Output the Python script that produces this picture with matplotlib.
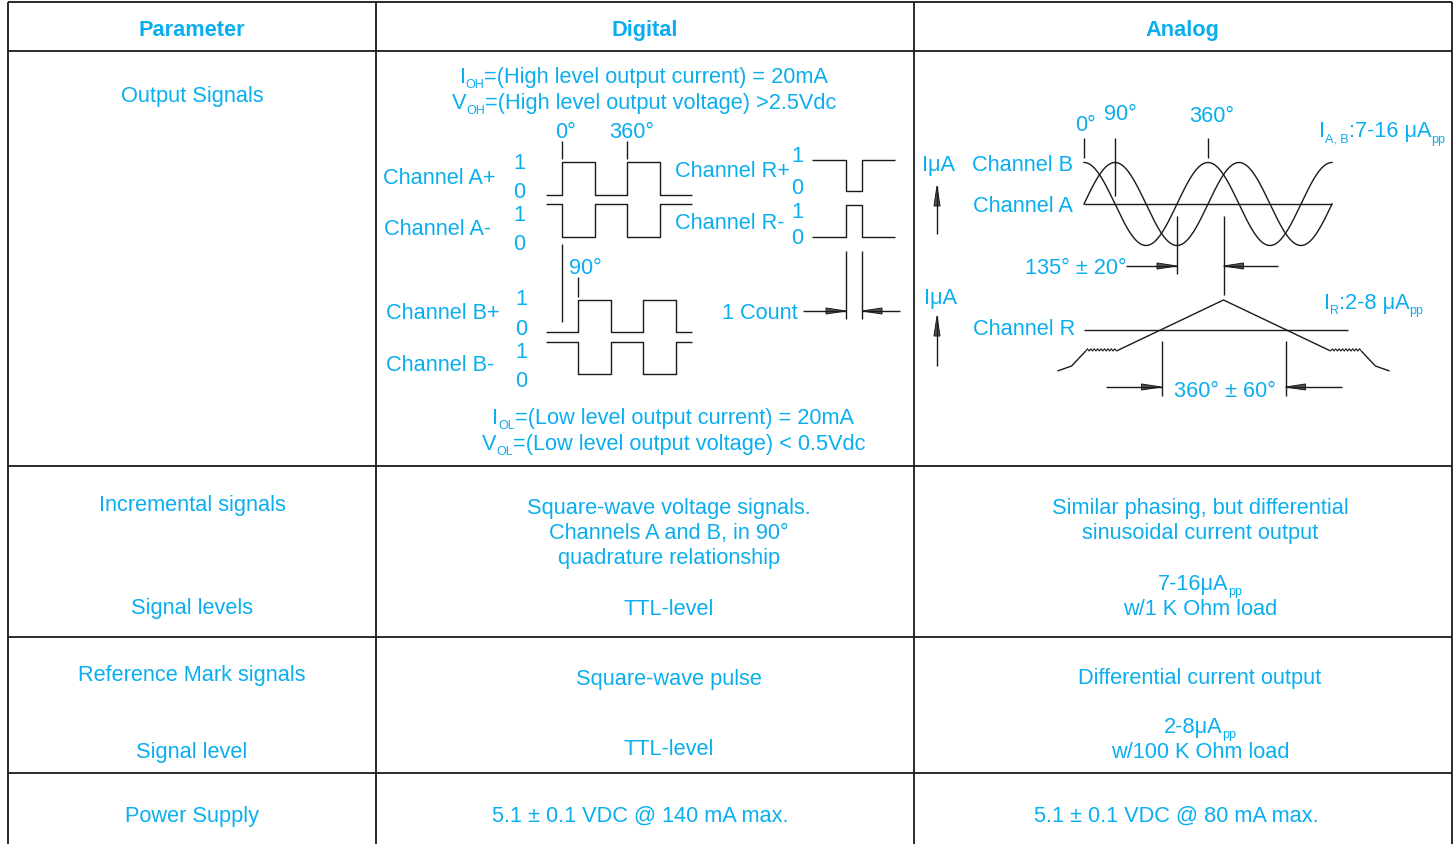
import numpy as np
import matplotlib.pyplot as plt
from matplotlib.patches import Polygon

plt.rcParams['font.family'] = ['Liberation Sans', 'DejaVu Sans']

BLUE = '#0AAEEF'
INK = '#1a1a1a'
FS = 15.7
SUB_FS = 9

# ---- table content ----
headers = ['Parameter', 'Digital', 'Analog']
params = ['Output Signals', 'Incremental signals', 'Signal levels',
          'Reference Mark signals', 'Signal level', 'Power Supply']
digital_cells = [['Square-wave voltage signals.', 'Channels A and B, in 90°', 'quadrature relationship'],
                 ['TTL-level'], ['Square-wave pulse'], ['TTL-level'],
                 ['5.1 ± 0.1 VDC @ 140 mA max.']]
analog_cells = [['Similar phasing, but differential', 'sinusoidal current output'],
                [[('7-16μA', 0), ('pp', 1)], 'w/1 K Ohm load'],
                ['Differential current output'],
                [[('2-8μA', 0), ('pp', 1)], 'w/100 K Ohm load'],
                ['5.1 ± 0.1 VDC @ 80 mA max.']]
# (text, is_subscript) pieces
digital_notes = [[('I', 0), ('OH', 1), ('=(High level output current) = 20mA', 0)],
                 [('V', 0), ('OH', 1), ('=(High level output voltage) >2.5Vdc', 0)],
                 [('I', 0), ('OL', 1), ('=(Low level output current) = 20mA', 0)],
                 [('V', 0), ('OL', 1), ('=(Low level output voltage) < 0.5Vdc', 0)]]
ab_note = [('I', 0), ('A, B', 1), (':7-16 μA', 0), ('pp', 1)]
r_note = [('I', 0), ('R', 1), (':2-8 μA', 0), ('pp', 1)]

# ---- digital waveforms (edges in electrical degrees) ----
a_edges = [0, 180, 360, 540]
b_edges = [90, 270, 450, 630]
ab_span = (-90, 720)
r_edges = [0, 90]
r_span = (-190, 270)

# ---- analog waveforms ----
ab_phase = {'Channel B': 90, 'Channel A': 0}
sine_span = (0, 720)
# reference mark profile: degrees from peak vs. level (px above baseline)
ref_deg = [-482, -441, -400, -311, 0, 311, 400, 441, 482]
ref_lvl = [-41, -36, -21, -21, 30, -21, -21, -36, -41]

fig = plt.figure(figsize=(14.55, 8.45), dpi=100)
ax = fig.add_axes([0, 0, 1, 1])
ax.set_xlim(0, 1455)
ax.set_ylim(845, 0)
ax.axis('off')
renderer = fig.canvas.get_renderer()


def put(x, y, s, ha='center', **kw):
    if isinstance(s, list):
        return rich(x, y, s, ha)
    ax.text(x, y + 7, s, ha=ha, va='baseline', color=BLUE, fontsize=FS, **kw)


def rich(x, y, parts, ha='center'):
    objs, widths = [], []
    for s, sub in parts:
        t = ax.text(0, y + 7 + (5.5 if sub else 0), s, ha='left', va='baseline',
                    color=BLUE, fontsize=SUB_FS if sub else FS)
        objs.append(t)
        widths.append(t.get_window_extent(renderer).width)
    total = sum(widths)
    cx = x - total / 2 if ha == 'center' else x
    for t, w in zip(objs, widths):
        t.set_x(cx)
        cx += w


def block(x, y, lines, step=25):
    for i, s in enumerate(lines):
        put(x, y + i * step, s)


def line(xs, ys, lw=1.0):
    ax.plot(xs, ys, color=INK, lw=lw, solid_capstyle='butt')


def head(x, y, direction, length=20, half=3):
    # narrow dimension arrowhead, tip at (x, y)
    if direction in ('left', 'right'):
        d = 1 if direction == 'right' else -1
        pts = [(x, y), (x - d * length, y - half), (x - d * length, y + half)]
    else:
        pts = [(x, y), (x - half, y + length), (x + half, y + length)]
    ax.add_patch(Polygon(pts, closed=True, facecolor='#555555', edgecolor=INK, lw=0.7))


# ---- table grid ----
col_x = [8, 376, 914, 1452]
row_y = [3, 52, 467, 638, 774]
for x in col_x:
    line([x, x], [3, 845], lw=1.3)
for y in row_y:
    line([8, 1452], [y, y], lw=1.3)

for x, h in zip([192, 645, 1182], headers):
    put(x, 29, h, fontweight='bold')

for y, p in zip([95, 504, 607, 674, 751, 815], params):
    put(192, y, p)

for (x, y), cell in zip([(669, 507), (669, 608), (669, 678), (669, 748), (640, 815)], digital_cells):
    block(x, y, cell)
for (x, y), cell in zip([(1200, 507), (1200, 583), (1200, 677), (1200, 726), (1176, 815)], analog_cells):
    block(x, y, cell)

for (x, y), s in zip([(644, 76), (644, 102), (673, 417), (674, 443)], digital_notes):
    put(x, y, s)


# ---- digital diagram ----
def step_wave(x0, ppd, edges, start, span, y_hi, y_lo):
    xs, ys = [x0 + span[0] * ppd], []
    lvl = start
    ys.append(y_hi if lvl else y_lo)
    for e in edges:
        xe = x0 + e * ppd
        xs += [xe, xe]
        ys += [y_hi if lvl else y_lo]
        lvl = 1 - lvl
        ys += [y_hi if lvl else y_lo]
    xs.append(x0 + span[1] * ppd)
    ys.append(y_hi if lvl else y_lo)
    line(xs, ys)


ppd_d = 65 / 360
x0_d = 562
step_wave(x0_d, ppd_d, a_edges, 0, ab_span, 163, 196)
step_wave(x0_d, ppd_d, a_edges, 1, ab_span, 205, 238)
step_wave(x0_d, ppd_d, b_edges, 0, ab_span, 301, 333)
step_wave(x0_d, ppd_d, b_edges, 1, ab_span, 343, 375)
step_wave(846, ppd_d, r_edges, 1, r_span, 161, 192)
step_wave(846, ppd_d, r_edges, 0, r_span, 206, 238)

for lab, x, y in [('Channel A+', 383, 177), ('Channel A-', 384, 228),
                  ('Channel B+', 386, 312), ('Channel B-', 386, 364),
                  ('Channel R+', 675, 170), ('Channel R-', 675, 222),
                  ('1 Count', 722, 312)]:
    put(x, y, lab, ha='left')
for s, x, y in [('1', 519, 162), ('0', 519, 191), ('1', 519, 214), ('0', 519, 243),
                ('1', 521, 298), ('0', 521, 328), ('1', 521, 351), ('0', 521, 380),
                ('1', 797, 155), ('0', 797, 187), ('1', 797, 211), ('0', 797, 237)]:
    put(x, y, s)

put(566, 131, '0°')
put(632, 131, '360°')
put(585, 267, '90°')
line([x0_d, x0_d], [142, 160])
line([x0_d + 360 * ppd_d] * 2, [142, 160])
line([x0_d, x0_d], [245, 323])
line([x0_d + 90 * ppd_d] * 2, [278, 298])

# 1 count dimension
line([846, 846], [252, 320])
line([862, 862], [252, 320])
line([803, 846], [312, 312])
line([862, 900], [312, 312])
head(846, 312, 'right')
head(862, 312, 'left')

# ---- analog diagram ----
ppd_a = 124 / 360
x0_a = 1084
yc, amp = 205, 41.5
deg = np.linspace(sine_span[0], sine_span[1], 400)
for name, ph in ab_phase.items():
    ax.plot(x0_a + deg * ppd_a, yc - amp * np.sin(np.radians(deg + ph)), color=INK, lw=1.0)
line([x0_a, x0_a + sine_span[1] * ppd_a], [yc, yc])

line([x0_a, x0_a], [139, 159])
line([x0_a + 90 * ppd_a] * 2, [139, 197])
line([x0_a + 360 * ppd_a] * 2, [139, 159])
put(1086, 124, '0°')
put(1120, 113, '90°')
put(1212, 115, '360°')
put(1319, 130, ab_note, ha='left')

put(939, 164, 'IμA')
put(1023, 164, 'Channel B')
put(1023, 205, 'Channel A')
line([937, 937], [187, 235])
head(937, 187, 'up')

# 135 deg dimension
xb = x0_a + 270 * ppd_a
xr = xb + 135 * ppd_a
line([xb, xb], [217, 275])
line([xr, xr], [217, 296])
line([1126, xb], [267, 267])
line([xr, 1278], [267, 267])
head(xb, 267, 'right')
head(xr, 267, 'left')
put(1076, 267, '135° ± 20°')

# reference mark
yr = 331
line([x0_a, 1348], [yr, yr])
rx = [xr + d * ppd_a for d in ref_deg]
ry = [yr - v for v in ref_lvl]
line(rx[:3], ry[:3])
line(rx[3:6], ry[3:6])
line(rx[6:], ry[6:])
for i0 in (2, 5):
    xa, xe = rx[i0], rx[i0 + 1]
    n = 9
    zx = np.linspace(xa, xe, 2 * n + 1)
    zy = ry[i0] + np.tile([0, -2.2], n + 1)[:2 * n + 1]
    line(zx, zy, lw=0.8)

xl, xh = xr - 180 * ppd_a, xr + 180 * ppd_a
line([xl, xl], [342, 397])
line([xh, xh], [342, 397])
line([1106, xl], [388, 388])
line([xh, 1342], [388, 388])
head(xl, 388, 'right')
head(xh, 388, 'left')
put(1225, 390, '360° ± 60°')

put(940, 297, 'IμA')
put(1024, 328, 'Channel R')
line([937, 937], [317, 367])
head(937, 317, 'up')
put(1324, 302, r_note, ha='left')

fig.savefig('out.png', dpi=100)
